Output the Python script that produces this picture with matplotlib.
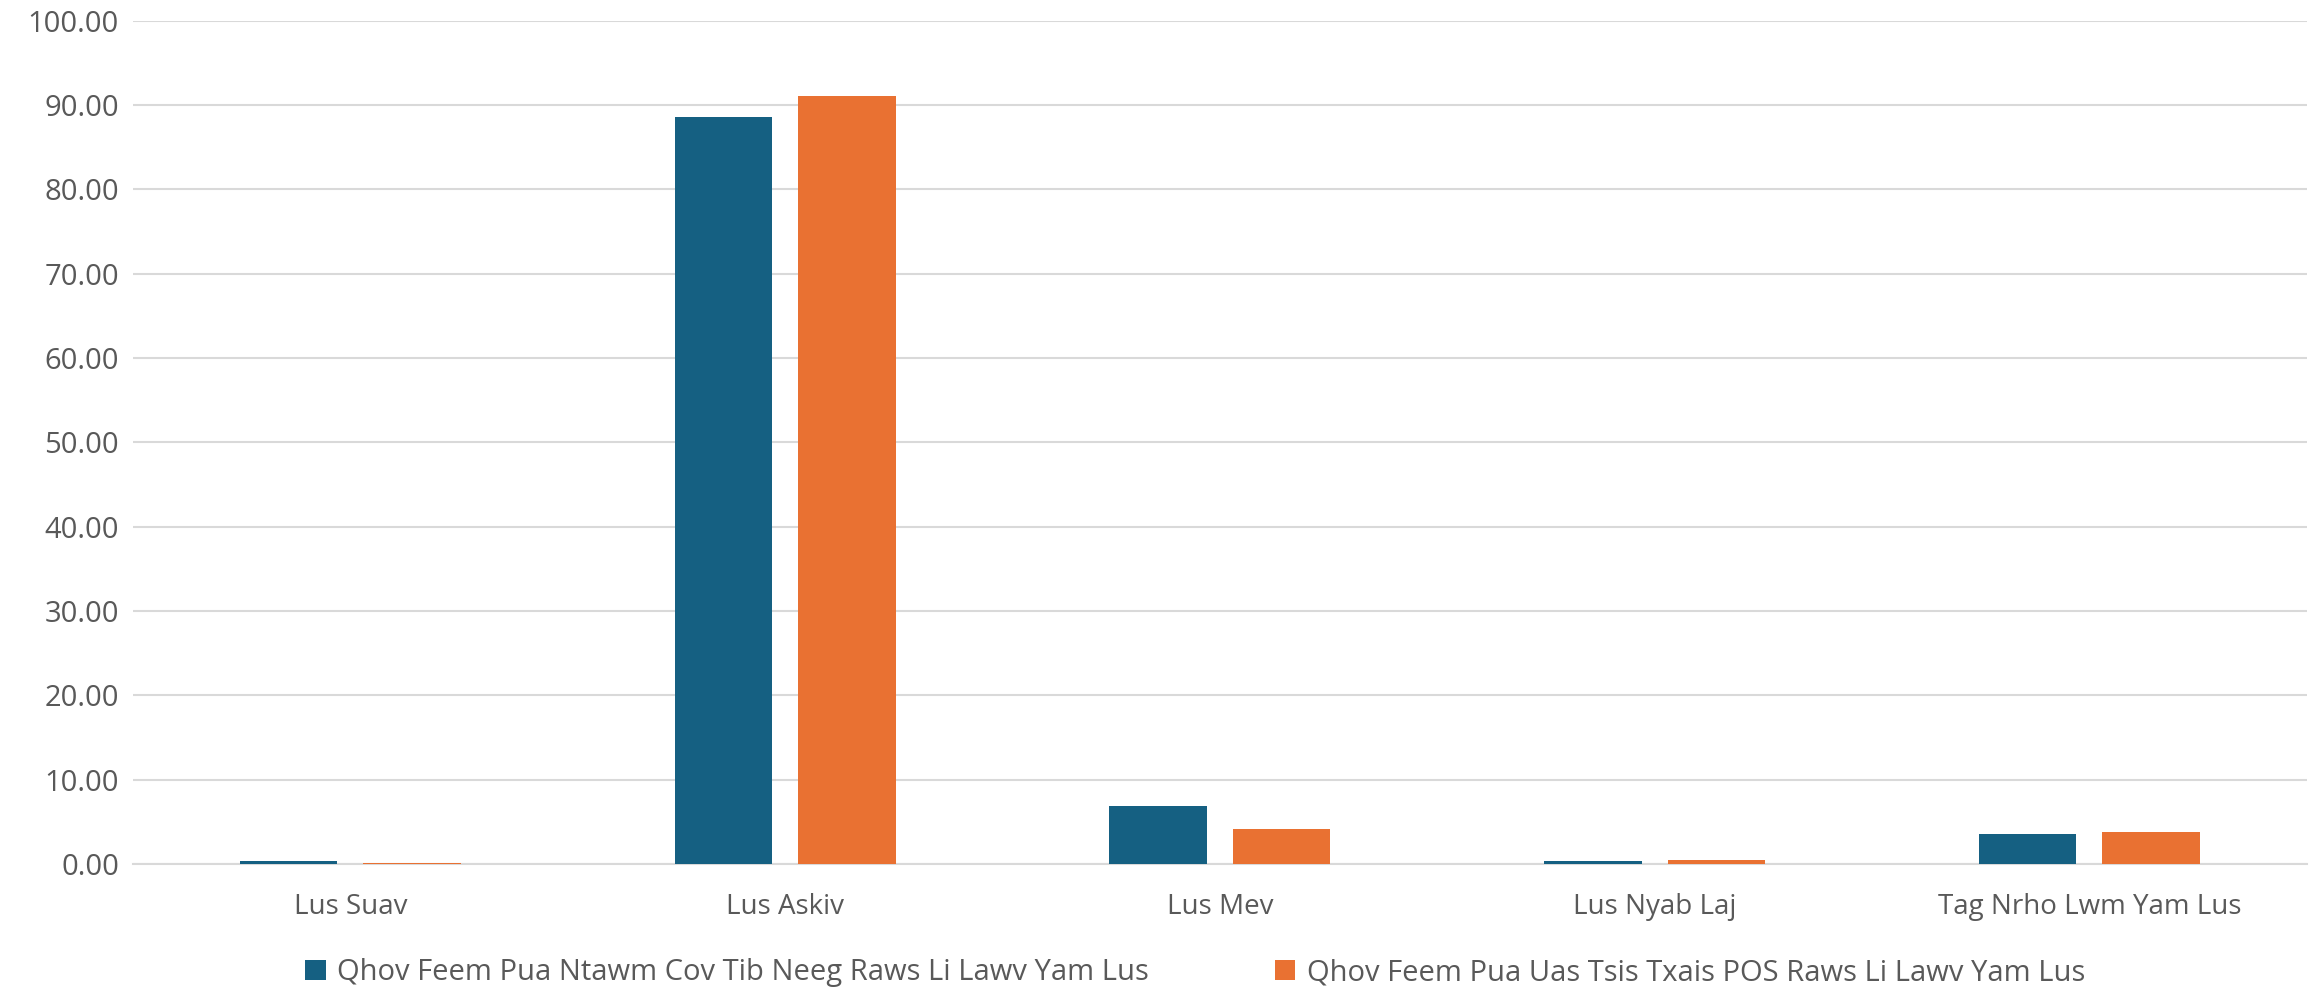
import matplotlib.pyplot as plt
import numpy as np

categories = ['Lus Suav', 'Lus Askiv', 'Lus Mev', 'Lus Nyab Laj', 'Tag Nrho Lwm Yam Lus']
series_names = ['Qhov Feem Pua Ntawm Cov Tib Neeg Raws Li Lawv Yam Lus',
                'Qhov Feem Pua Uas Tsis Txais POS Raws Li Lawv Yam Lus']
blue_vals = [0.3, 88.6, 6.9, 0.4, 3.5]
orange_vals = [0.15, 91.1, 4.2, 0.5, 3.8]
yticks = np.arange(0, 101, 10)

plt.rcParams['font.family'] = ['Open Sans', 'DejaVu Sans']

fig = plt.figure(figsize=(23.16, 9.89), dpi=100)
ax = fig.add_axes([0.0574, 0.1264, 0.9386, 0.8526])

x = np.arange(len(categories))
w = 0.224
off = 0.142
ax.bar(x - off, blue_vals, w, color='#156082', label=series_names[0], zorder=3)
ax.bar(x + off, orange_vals, w, color='#E97132', label=series_names[1], zorder=3)

ax.set_xlim(-0.5, len(categories) - 0.5)
ax.set_ylim(0, 100)
ax.set_yticks(yticks)
ax.set_yticklabels([f'{v:.2f}' for v in yticks])
ax.set_xticks(x)
ax.set_xticklabels(categories)
ax.yaxis.grid(True, color='#D9D9D9', linewidth=1.5, zorder=0)
ax.tick_params(axis='x', length=0, labelsize=20, labelcolor='#595959', pad=21)
ax.tick_params(axis='y', length=0, labelsize=21, labelcolor='#595959', pad=10)
for s in ['top', 'right', 'left']:
    ax.spines[s].set_visible(False)
ax.spines['bottom'].set_color('#D9D9D9')
ax.spines['bottom'].set_linewidth(1.5)

fig.legend(loc='lower center', bbox_to_anchor=(0.516, -0.025), ncol=2, frameon=False,
           fontsize=21, labelcolor='#595959', handlelength=0.7, handleheight=0.7,
           handletextpad=0.4, columnspacing=4.3)

plt.savefig('out.png', dpi=100)
